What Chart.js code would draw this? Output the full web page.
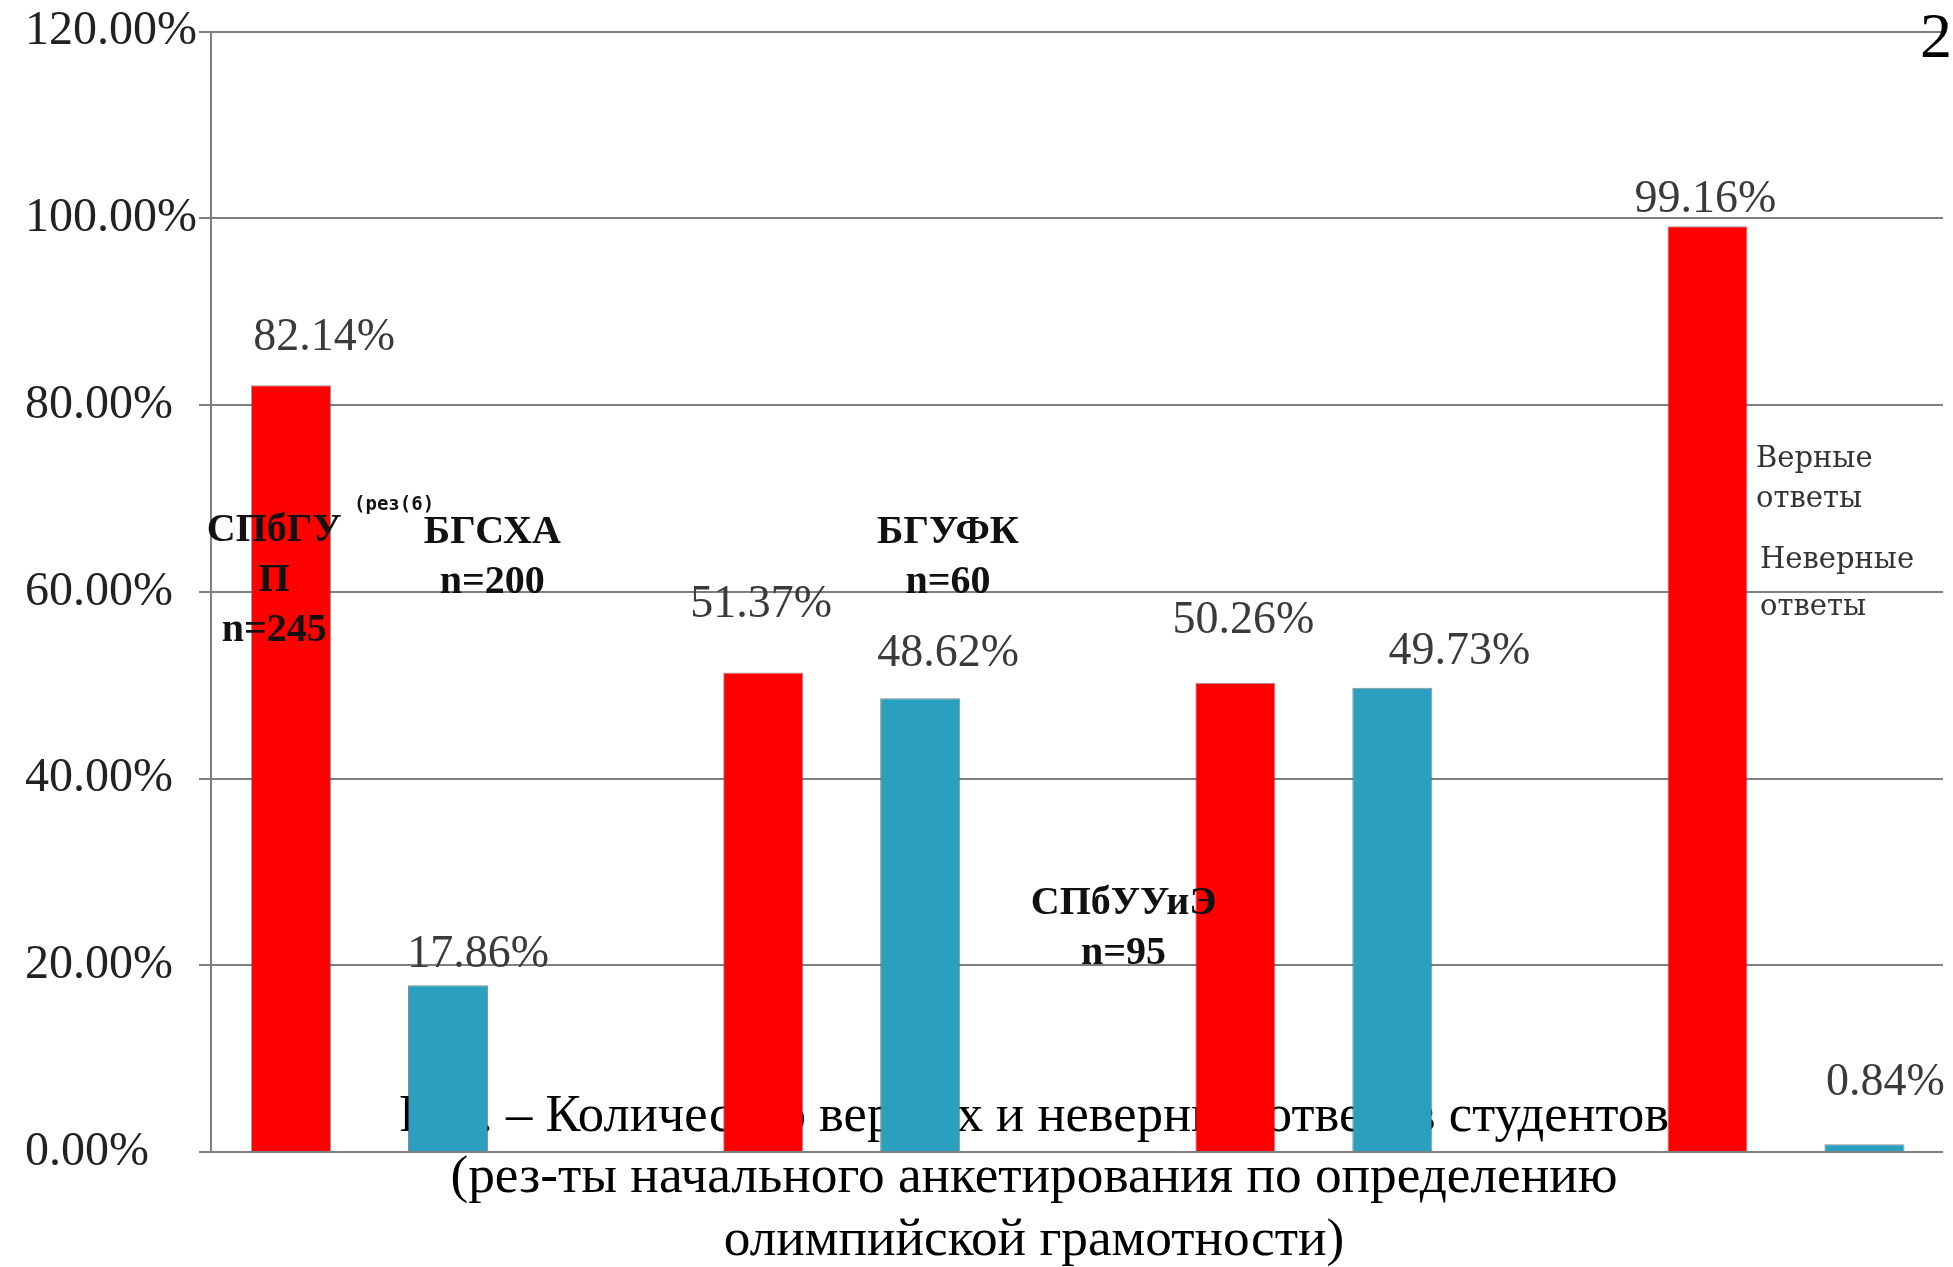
<!DOCTYPE html>
<html lang="ru">

<head>
    <meta charset="UTF-8">
    <title>Верные и неверные ответы студентов</title>
    <script src="https://cdn.jsdelivr.net/npm/chart.js"></script>
    <style>
        html, body { margin: 0; padding: 0; background: #fff; }
        #wrap { width: 1953px; height: 1267px; position: relative; }
    </style>
</head>

<body>
    <div id="wrap">
        <canvas id="grafico"></canvas>
    </div>
</body>

</html>

<script>
    // данные
    var grupy = [0, 1, 2, 3]
    var vuzy = [['СПбГУ', 'П', 'n=245'], ['БГСХА', 'n=200'], ['БГУФК', 'n=60'], ['СПбУУиЭ', 'n=95']]
    var vernye = [82.14, 51.37, 50.26, 99.16]
    var nevernye = [17.86, 48.62, 49.73, 0.84]
    var yTicks = [0, 20, 40, 60, 80, 100, 120]
    var legenda = [['Верные', 'ответы'], ['Неверные', 'ответы']]
    var podpis = [
        'Рис. – Количество верных и неверных ответов студентов',
        '(рез-ты начального анкетирования по определению',
        'олимпийской грамотности)'
    ]

    // где стоят подписи вузов (в единицах осей) и сдвиги подписей значений (px)
    var vuzyPos = [[-0.202, 65.4], [0.26, 65.2], [1.225, 65.2], [1.597, 25.5]]
    var sdvig = [
        [[33, -35], [-2, -55], [8, -50], [-2, -14]],
        [[30, -18], [28, -32], [67, -24], [21, -49]]
    ]

    var serif = '"Liberation Serif", "Times New Roman", serif'

    function vuzLabel(ctx, chart, i) {
        var x = chart.scales.x.getPixelForValue(vuzyPos[i][0])
        var y = chart.scales.y.getPixelForValue(vuzyPos[i][1])
        ctx.font = 'bold 40px ' + serif
        ctx.fillStyle = '#111'
        ctx.textAlign = 'center'
        ctx.textBaseline = 'alphabetic'
        vuzy[i].forEach(function (s, k) {
            ctx.fillText(s, x, y + k * 50)
        })
    }

    var podpisi = {
        id: 'podpisi',
        beforeDatasetsDraw: function (chart) {
            var ctx = chart.ctx
            ctx.save()
            // первая строка подписи уходит под столбики, растянута на ширину 1270
            ctx.font = '53.3px ' + serif
            ctx.fillStyle = '#000'
            ctx.textAlign = 'center'
            ctx.textBaseline = 'alphabetic'
            var w = ctx.measureText(podpis[0]).width
            ctx.translate(1034, 1131)
            ctx.scale(1270 / w, 1)
            ctx.fillText(podpis[0], 0, 0)
            ctx.restore()
        },
        afterDatasetsDraw: function (chart) {
            var ctx = chart.ctx
            ctx.save()

            // значения над столбиками
            ctx.font = '46px ' + serif
            ctx.fillStyle = '#3a3a3a'
            ctx.textAlign = 'center'
            ctx.textBaseline = 'alphabetic'
            chart.data.datasets.forEach(function (ds, d) {
                var meta = chart.getDatasetMeta(d)
                meta.data.forEach(function (el, i) {
                    var v = ds.data[i].y
                    ctx.fillText(v.toFixed(2) + '%', el.x + sdvig[d][i][0], el.y + sdvig[d][i][1])
                })
            })

            for (var i = 0; i < vuzy.length; i++) {
                vuzLabel(ctx, chart, i)
            }

            // обрывок текста
            ctx.font = 'bold 19px "DejaVu Sans Mono", monospace'
            ctx.fillStyle = '#111'
            ctx.textAlign = 'left'
            ctx.fillText('(рез(6)', 354, 510)

            // легенда
            ctx.font = '29px "DejaVu Serif", serif'
            ctx.fillStyle = '#333'
            ctx.fillText(legenda[0][0], 1756, 467)
            ctx.fillText(legenda[0][1], 1756, 507)
            ctx.fillText(legenda[1][0], 1760, 568)
            ctx.fillText(legenda[1][1], 1760, 615)

            // номер страницы
            ctx.font = '64px ' + serif
            ctx.fillStyle = '#000'
            ctx.textAlign = 'right'
            ctx.fillText('2', 1952, 57)

            // остальная подпись
            ctx.font = '53.3px ' + serif
            ctx.textAlign = 'center'
            ctx.fillText(podpis[1], 1034, 1192)
            ctx.fillText(podpis[2], 1034, 1255)

            ctx.restore()
        }
    }

    var config = {
        type: 'bar',
        data: {
            datasets: [{
                label: 'Верные ответы',
                data: grupy.map(function (g, i) { return { x: g, y: vernye[i] } }),
                backgroundColor: '#FF0000',
                borderColor: 'rgba(110,110,110,0.7)',
                borderWidth: 1
            }, {
                label: 'Неверные ответы',
                data: grupy.map(function (g, i) { return { x: g, y: nevernye[i] } }),
                backgroundColor: '#2B9FC0',
                borderColor: 'rgba(90,90,90,0.7)',
                borderWidth: 1
            }]
        },
        options: {
            responsive: true,
            maintainAspectRatio: false,
            animation: false,
            categoryPercentage: 0.665,
            barPercentage: 0.51,
            layout: { padding: { left: 25, right: 10, top: 26, bottom: 115 } },
            plugins: {
                legend: { display: false },
                tooltip: { enabled: false }
            },
            scales: {
                x: {
                    type: 'linear',
                    display: false,
                    offset: false,
                    min: -0.3358,
                    max: 3.3326,
                    afterBuildTicks: function (scale) {
                        scale.ticks = grupy.map(function (v) { return { value: v } })
                    }
                },
                y: {
                    min: 0,
                    max: 120,
                    afterFit: function (scale) { scale.width = 186 },
                    afterBuildTicks: function (scale) {
                        scale.ticks = yTicks.map(function (v) { return { value: v } })
                    },
                    ticks: {
                        crossAlign: 'far',
                        color: '#222',
                        font: { family: serif, size: 48 },
                        callback: function (v) { return v.toFixed(2) + '%' }
                    },
                    grid: {
                        color: '#7f7f7f',
                        lineWidth: 2,
                        tickLength: 12
                    },
                    border: { color: '#7f7f7f', width: 2 }
                }
            }
        },
        plugins: [podpisi]
    }

    var myChart = new Chart(document.getElementById('grafico'), config)
</script>
